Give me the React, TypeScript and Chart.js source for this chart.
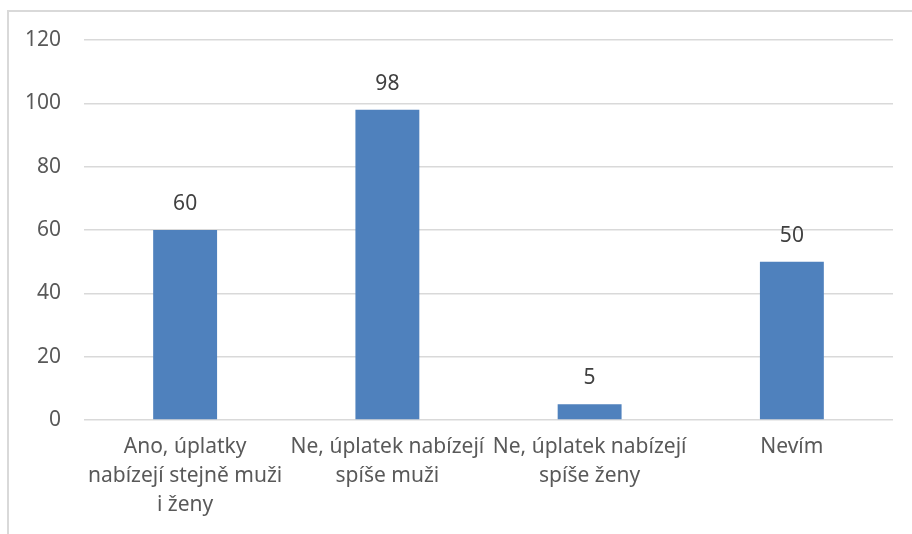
import React, { useEffect, useRef } from "react";
import { Chart, registerables } from "chart.js";

Chart.register(...registerables);

const categories: string[][] = [
  ["Ano, úplatky", "nabízejí stejně muži", "i ženy"],
  ["Ne, úplatek nabízejí", "spíše muži"],
  ["Ne, úplatek nabízejí", "spíše ženy"],
  ["Nevím"],
];
const values: number[] = [60, 98, 5, 50];
const yTicks: number[] = [0, 20, 40, 60, 80, 100, 120];

const FONT = "'Noto Sans', sans-serif";

const dataLabels = {
  id: "dataLabels",
  afterDatasetsDraw(chart: any) {
    const ctx = chart.ctx;
    const meta = chart.getDatasetMeta(0);
    ctx.save();
    ctx.font = `21px ${FONT}`;
    ctx.fillStyle = "#404040";
    ctx.textAlign = "center";
    ctx.textBaseline = "middle";
    meta.data.forEach((bar: any, i: number) => {
      ctx.fillText(String(values[i]), bar.x, bar.y - 26);
    });
    ctx.restore();
  },
};

export default function App() {
  const ref = useRef<HTMLCanvasElement>(null);
  useEffect(() => {
    if (!ref.current) return;
    const chart = new Chart(ref.current, {
      type: "bar",
      data: {
        labels: categories,
        datasets: [
          {
            data: values,
            backgroundColor: "#4F81BD",
            borderWidth: 0,
            categoryPercentage: 1,
            barPercentage: 0.316,
          },
        ],
      },
      options: {
        animation: false,
        responsive: false,
        maintainAspectRatio: false,
        layout: { padding: { top: 40, right: 19, bottom: 0, left: 0 } },
        plugins: { legend: { display: false }, tooltip: { enabled: false } },
        scales: {
          x: {
            grid: { display: false, drawTicks: false },
            border: { display: false },
            ticks: {
              color: "#595959",
              font: { family: FONT, size: 21, lineHeight: 1.38 },
              padding: 13,
              maxRotation: 0,
              autoSkip: false,
            },
            afterFit: (scale: any) => {
              scale.height = 114;
            },
          },
          y: {
            min: 0,
            max: 120,
            afterBuildTicks: (scale: any) => {
              scale.ticks = yTicks.map((v) => ({ value: v }));
            },
            grid: { color: "#d9d9d9", lineWidth: 1.5, drawTicks: false },
            border: { display: false },
            ticks: {
              color: "#595959",
              font: { family: FONT, size: 21 },
              padding: 23,
            },
            afterFit: (scale: any) => {
              scale.width = 84;
            },
          },
        },
      },
      plugins: [dataLabels],
    });
    return () => chart.destroy();
  }, []);
  return (
    <div>
      <div
        style={{
          position: "fixed",
          left: 7,
          top: 10,
          width: 1000,
          height: 1000,
          border: "2px solid #d9d9d9",
          boxSizing: "border-box",
        }}
      />
      <canvas
        ref={ref}
        width={912}
        height={534}
        style={{ position: "fixed", left: 0, top: 0, width: 912, height: 534 }}
      />
    </div>
  );
}
